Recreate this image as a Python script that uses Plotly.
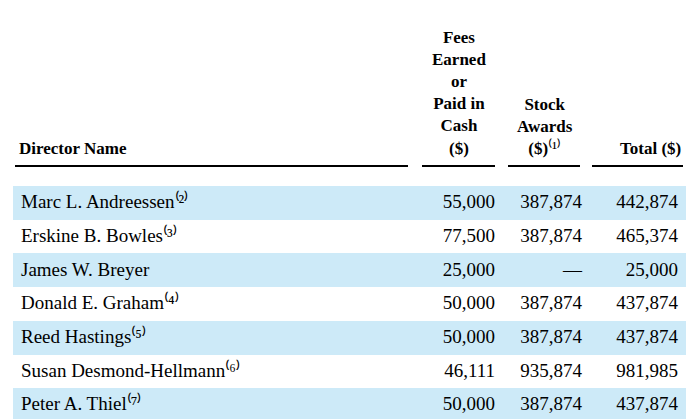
import plotly.graph_objects as go

names = ["Marc L. Andreessen⁽²⁾", "Erskine B. Bowles⁽³⁾", "James W. Breyer",
         "Donald E. Graham⁽⁴⁾", "Reed Hastings⁽⁵⁾",
         "Susan Desmond-Hellmann⁽⁶⁾", "Peter A. Thiel⁽⁷⁾"]
fees = ["55,000", "77,500", "25,000", "50,000", "50,000", "46,111", "50,000"]
stock = ["387,874", "387,874", "—", "387,874", "387,874", "935,874", "387,874"]
total = ["442,874", "465,374", "25,000", "437,874", "437,874", "981,985", "437,874"]
headers = ["<b>Director Name</b>",
           "<b>Fees<br>Earned<br>or<br>Paid in<br>Cash<br>($)</b>",
           "<b>Stock<br>Awards<br>($)</b>⁽¹⁾",
           "<b>Total ($)</b>"]

W, H = 695, 419
x0, x1 = 5, 678
top = 162
blue, white = "#cdeaf8", "#ffffff"
fills = [blue if i % 2 == 0 else white for i in range(len(names))]

fig = go.Figure(go.Table(
    domain=dict(x=[x0 / W, x1 / W], y=[0, 1 - top / H]),
    columnwidth=[405, 85, 87, 96],
    header=dict(values=[], height=0, line_width=0, fill_color="white"),
    cells=dict(values=[names, fees, stock, total], align=["left", "right", "right", "right"],
               font=dict(family="Liberation Serif", size=19, color="black"),
               fill_color=[fills] * 4, line=dict(color=[fills] * 4, width=0), height=33.7),
))
hy = 1 - 152 / H
pos = [(9, "left"), (451, "center"), (537, "center"), (675, "right")]
for (hx, al), t in zip(pos, headers):
    fig.add_annotation(x=hx / W, y=hy, xref="paper", yref="paper", text=t, showarrow=False,
                       xanchor=al, yanchor="bottom", align=al,
                       font=dict(family="Liberation Serif", size=17, color="black"))
ly = 1 - 158 / H
for a, b in [(7, 400), (414, 487), (500, 572), (584, 675)]:
    fig.add_shape(type="line", xref="paper", yref="paper", x0=a / W, x1=b / W, y0=ly, y1=ly,
                  line=dict(color="black", width=2))
fig.update_layout(width=W, height=H, margin=dict(l=0, r=0, t=0, b=0), paper_bgcolor="white")
fig.write_html("out.html")
